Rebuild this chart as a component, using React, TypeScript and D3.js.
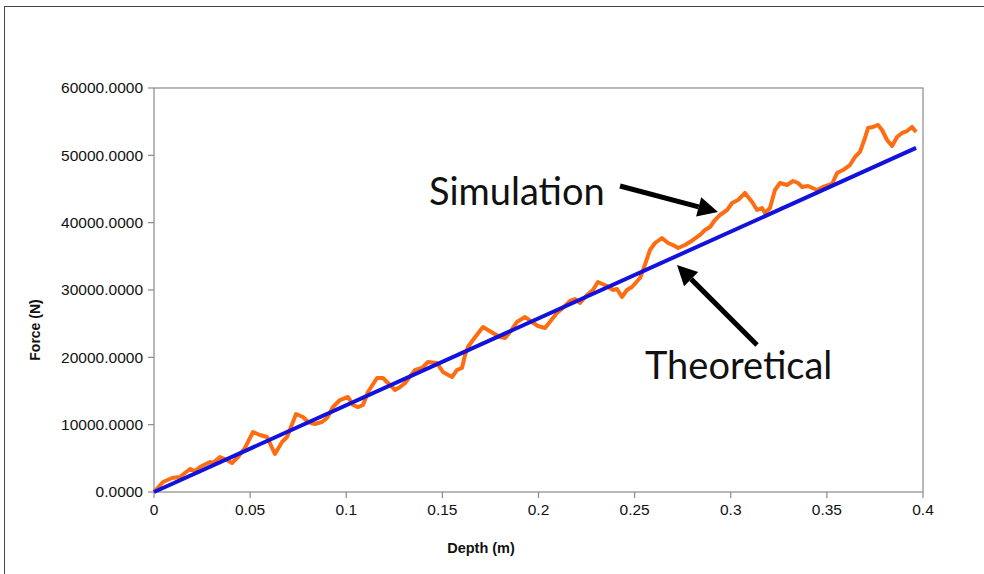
import React from "react";
import * as d3 from "d3";

// Depth (m) and force (N) samples of the simulated penetration run
const simDepth = [
  0, 0.0047, 0.0094, 0.0135, 0.0187, 0.0213, 0.0239, 0.0291, 0.0307, 0.0343,
  0.038, 0.0406, 0.0437, 0.0473, 0.0515, 0.0551, 0.0588, 0.0629, 0.0666, 0.0692,
  0.0739, 0.0775, 0.0801, 0.0837, 0.0874, 0.09, 0.0931, 0.0967, 0.1009, 0.1035,
  0.1061, 0.1087, 0.1113, 0.116, 0.1191, 0.1217, 0.1254, 0.128, 0.1306, 0.1358,
  0.1394, 0.1425, 0.1472, 0.1503, 0.155, 0.1576, 0.1602, 0.1618, 0.1633, 0.1659,
  0.1711, 0.1763, 0.18, 0.1826, 0.1852, 0.1888, 0.193, 0.1966, 0.1997, 0.2034,
  0.2096, 0.2127, 0.2164, 0.219, 0.2216, 0.2252, 0.2283, 0.2309, 0.2356, 0.2388,
  0.2408, 0.2434, 0.246, 0.2486, 0.2528, 0.2544, 0.258, 0.2606, 0.2642, 0.2674,
  0.27, 0.2726, 0.2762, 0.2804, 0.284, 0.2866, 0.2892, 0.2918, 0.2944, 0.2981,
  0.3007, 0.3038, 0.3074, 0.3111, 0.3137, 0.3163, 0.3178, 0.3204, 0.323, 0.3256,
  0.3293, 0.3324, 0.335, 0.3371, 0.3402, 0.3449, 0.348, 0.3527, 0.3553, 0.3584,
  0.362, 0.3646, 0.3672, 0.3698, 0.3714, 0.374, 0.3766, 0.3787, 0.3813, 0.3839,
  0.3865, 0.3891, 0.3917, 0.3943, 0.3964,
];
const simForce = [
  0, 1490, 2080, 2230, 3420, 3120, 3710, 4460, 4310, 5200,
  4750, 4310, 5200, 6540, 8910, 8470, 8170, 5640, 7430, 8170,
  11580, 11140, 10400, 10100, 10400, 10990, 12620, 13660, 14110, 12920,
  12620, 12920, 14850, 16930, 16930, 16190, 15150, 15590, 16190, 18120,
  18420, 19310, 19160, 17820, 17080, 18120, 18420, 20350, 21540, 22570,
  24510, 23610, 23020, 22870, 23760, 25250, 25990, 25250, 24650, 24360,
  26580, 27330, 28370, 28660, 28070, 29260, 30000, 31190, 30590, 30000,
  30150, 28960, 30000, 30450, 31780, 32970, 35940, 36980, 37720, 36980,
  36680, 36240, 36680, 37430, 38170, 38910, 39360, 40400, 41140, 41880,
  42920, 43370, 44410, 43070, 41880, 42180, 41440, 42180, 44850, 45890,
  45590, 46190, 45890, 45300, 45450, 44850, 45300, 45740, 47380, 47820,
  48560, 49750, 50500, 52570, 54060, 54210, 54510, 53760, 52280, 51390,
  52720, 53320, 53610, 54210, 53470,
];

// Theoretical straight-line prediction
const theoDepth = [0, 0.3964];
const theoForce = [0, 51100];

const xTicks = [0, 0.05, 0.1, 0.15, 0.2, 0.25, 0.3, 0.35, 0.4];
const yTicks = [0, 10000, 20000, 30000, 40000, 50000, 60000];

const W = 984;
const H = 574;
const plot = { left: 154, right: 923, top: 88, bottom: 492 };

const x = d3.scaleLinear().domain([0, 0.4]).range([plot.left, plot.right]);
const y = d3.scaleLinear().domain([0, 60000]).range([plot.bottom, plot.top]);

const line = d3
  .line<[number, number]>()
  .x((d) => x(d[0]))
  .y((d) => y(d[1]));

const simPts = simDepth.map((d, i) => [d, simForce[i]] as [number, number]);
const theoPts = theoDepth.map((d, i) => [d, theoForce[i]] as [number, number]);

const axisColor = "#8a8a8a";
const sans = "'Liberation Sans', Arial, sans-serif";
const callout = "Lato, 'Open Sans', sans-serif";

function Arrow({ x1, y1, x2, y2 }: { x1: number; y1: number; x2: number; y2: number }) {
  const ang = Math.atan2(y2 - y1, x2 - x1);
  const len = 20;
  const half = 10;
  const bx = x2 - len * Math.cos(ang);
  const by = y2 - len * Math.sin(ang);
  const px = -Math.sin(ang) * half;
  const py = Math.cos(ang) * half;
  return (
    <g>
      <line x1={x1} y1={y1} x2={bx} y2={by} stroke="#000" strokeWidth={5} />
      <polygon
        points={`${x2},${y2} ${bx + px},${by + py} ${bx - px},${by - py}`}
        fill="#000"
      />
    </g>
  );
}

export default function App() {
  return (
    <svg
      width={W}
      height={H}
      style={{ position: "absolute", left: 0, top: 0, background: "#fff" }}
    >
      <rect x={0} y={0} width={W} height={H} fill="#fff" />
      {/* outer frame */}
      <rect x={4.5} y={6.5} width={W + 10} height={H + 10} fill="none" stroke="#444" strokeWidth={1} />

      {/* plot box */}
      <rect
        x={plot.left}
        y={plot.top}
        width={plot.right - plot.left}
        height={plot.bottom - plot.top}
        fill="none"
        stroke={axisColor}
        strokeWidth={1.2}
      />

      {/* y axis ticks and labels */}
      {yTicks.map((t) => (
        <g key={`y${t}`}>
          <line x1={plot.left - 6} x2={plot.left} y1={y(t)} y2={y(t)} stroke={axisColor} strokeWidth={1.2} />
          <text
            x={plot.left - 11}
            y={y(t)}
            dy="0.35em"
            textAnchor="end"
            fontFamily={sans}
            fontSize={15.5}
            fill="#111"
          >
            {t.toFixed(4)}
          </text>
        </g>
      ))}

      {/* x axis ticks and labels */}
      {xTicks.map((t) => (
        <g key={`x${t}`}>
          <line x1={x(t)} x2={x(t)} y1={plot.bottom} y2={plot.bottom + 6} stroke={axisColor} strokeWidth={1.2} />
          <text
            x={x(t)}
            y={plot.bottom + 23}
            textAnchor="middle"
            fontFamily={sans}
            fontSize={15.5}
            fill="#111"
          >
            {String(t)}
          </text>
        </g>
      ))}

      {/* axis titles */}
      <text
        x={481}
        y={553}
        textAnchor="middle"
        fontFamily={sans}
        fontSize={14.5}
        fontWeight="bold"
        fill="#111"
      >
        Depth (m)
      </text>
      <text
        transform={`translate(40,330) rotate(-90)`}
        textAnchor="middle"
        fontFamily={sans}
        fontSize={14}
        fontWeight="bold"
        fill="#111"
      >
        Force (N)
      </text>

      {/* series */}
      <path d={line(simPts) ?? ""} fill="none" stroke="#ff6d12" strokeWidth={4} strokeLinejoin="round" />
      <path d={line(theoPts) ?? ""} fill="none" stroke="#1212dc" strokeWidth={4} />

      {/* callouts */}
      <text x={429} y={205} fontFamily={callout} fontSize={38} fill="#111">
        Simulation
      </text>
      <Arrow x1={620} y1={186} x2={718} y2={212} />
      <text x={645} y={379} fontFamily={callout} fontSize={38} fill="#111">
        Theoretical
      </text>
      <Arrow x1={757} y1={345} x2={677} y2={265} />
    </svg>
  );
}
